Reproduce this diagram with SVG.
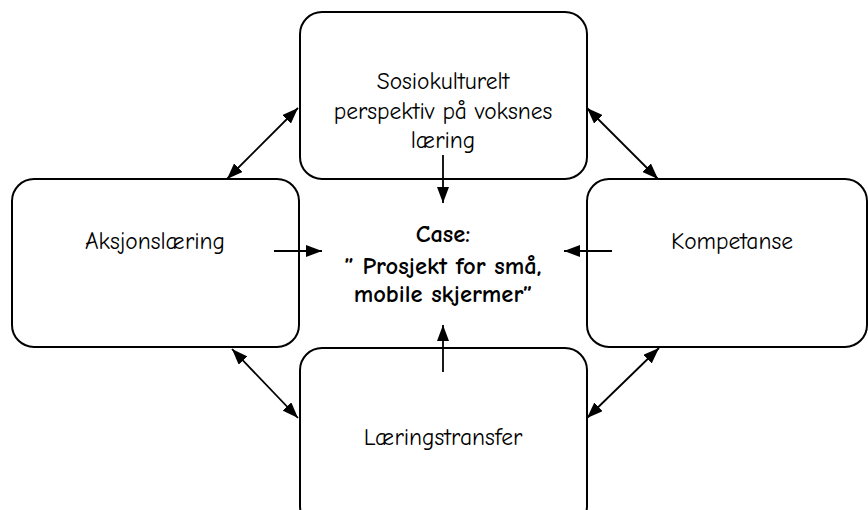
<svg xmlns="http://www.w3.org/2000/svg" width="868" height="510" viewBox="0 0 868 510">
<defs>
<style>
.box{fill:#fff;stroke:#000;stroke-width:2}
.t{font-family:"Comic Sans MS","Comic Neue","DejaVu Sans",sans-serif;font-size:23.5px;fill:#000;text-anchor:middle}
.b{font-weight:bold;font-size:24.5px}
.c{stroke:#000;stroke-width:1.8;fill:none}
</style>
<marker id="ah" viewBox="0 0 16 12" refX="16" refY="6" markerWidth="16" markerHeight="12" markerUnits="userSpaceOnUse" orient="auto-start-reverse">
<path d="M0,0 L16,6 L0,12 Z" fill="#000"/>
</marker>
</defs>
<rect width="868" height="510" fill="#fff"/>
<g id="top">
<rect class="box" x="300" y="12" width="287" height="167" rx="22"/>
<text class="t" x="443" y="89">Sosiokulturelt</text>
<text class="t" x="443" y="119">perspektiv på voksnes</text>
<text class="t" x="443" y="148">læring</text>
</g>
<g id="left">
<rect class="box" x="12" y="179" width="287" height="168" rx="22"/>
<text class="t" x="155" y="249">Aksjonslæring</text>
</g>
<g id="right">
<rect class="box" x="587" y="179" width="280" height="168" rx="22"/>
<text class="t" x="732" y="249">Kompetanse</text>
</g>
<g id="bottom">
<rect class="box" x="300" y="348" width="287" height="180" rx="22"/>
<text class="t" x="443" y="445">Læringstransfer</text>
</g>
<g id="center">
<text class="t b" x="443" y="242">Case:</text>
<text class="t b" x="443" y="274">” Prosjekt for små,</text>
<text class="t b" x="443" y="302">mobile skjermer”</text>
</g>
<g id="connectors">
<line class="c" x1="443" y1="155" x2="443" y2="203" marker-end="url(#ah)"/>
<line class="c" x1="274" y1="251" x2="322" y2="251" marker-end="url(#ah)"/>
<line class="c" x1="612" y1="251" x2="564" y2="251" marker-end="url(#ah)"/>
<line class="c" x1="443" y1="372" x2="443" y2="325" marker-end="url(#ah)"/>
<line class="c" x1="227" y1="179" x2="298" y2="108" marker-start="url(#ah)" marker-end="url(#ah)"/>
<line class="c" x1="587" y1="108" x2="658" y2="179" marker-start="url(#ah)" marker-end="url(#ah)"/>
<line class="c" x1="232" y1="349" x2="298" y2="418" marker-start="url(#ah)" marker-end="url(#ah)"/>
<line class="c" x1="659" y1="348" x2="587" y2="418" marker-start="url(#ah)" marker-end="url(#ah)"/>
</g>
</svg>
